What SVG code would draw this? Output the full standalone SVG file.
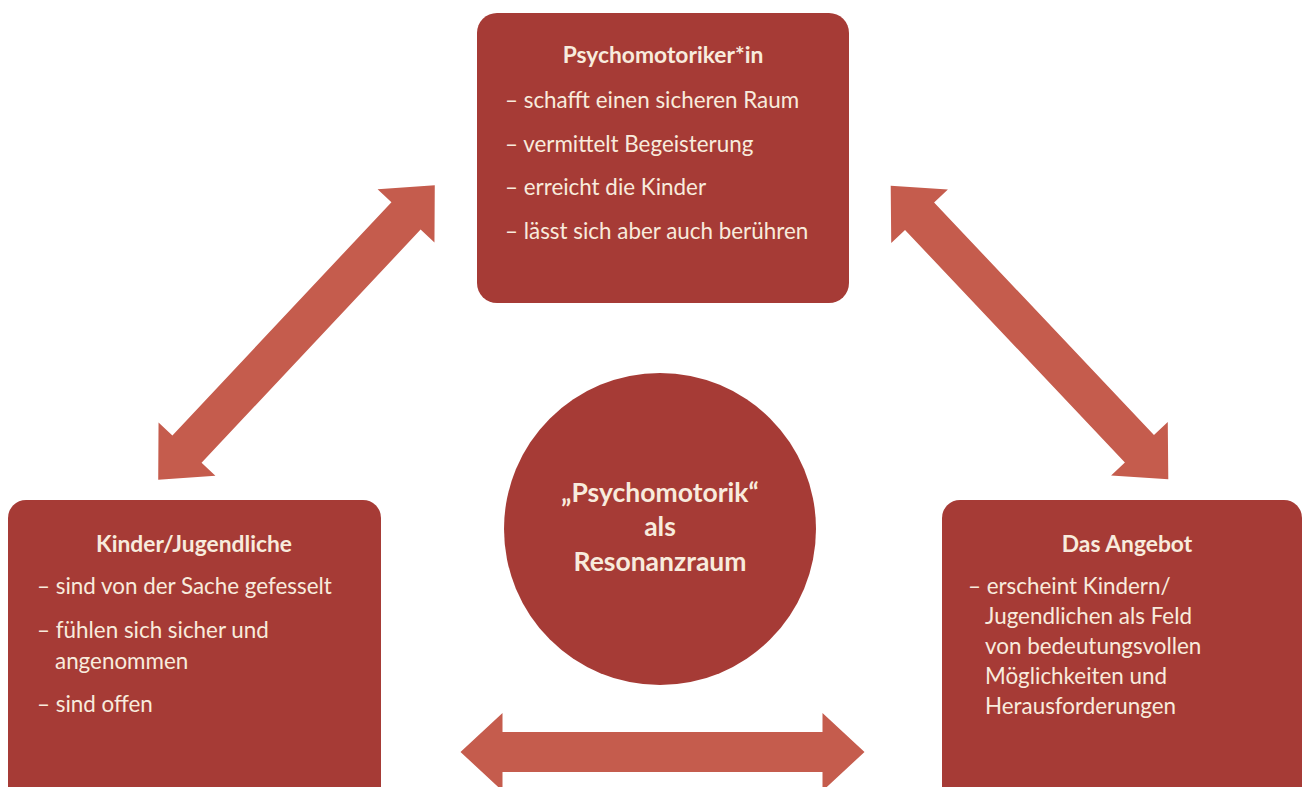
<svg xmlns="http://www.w3.org/2000/svg" xmlns:xlink="http://www.w3.org/1999/xlink" width="1303" height="787" viewBox="0 0 1303 787">
  <style>
    .box { fill: #a63b36; }
    .arrow { fill: #c55c4d; }
    text { font-family: "Lato", "Open Sans", sans-serif; fill: #f8ebdd; }
    .title { font-weight: bold; font-size: 22.8px; text-anchor: middle; }
    .item { font-size: 22.4px; }
    .center { font-weight: bold; font-size: 26.5px; text-anchor: middle; }
  </style>
  <defs>
    <path id="dbl" d="M -202,0 L -160,-39 L -160,-20 L 160,-20 L 160,-39 L 202,0 L 160,39 L 160,20 L -160,20 L -160,39 Z"/>
  </defs>
  <rect width="1303" height="787" fill="#ffffff"/>
  <g id="connectors" class="arrow">
    <use xlink:href="#dbl" href="#dbl" transform="translate(296.5,332.5) rotate(-46.8)"/>
    <use xlink:href="#dbl" href="#dbl" transform="translate(1029.5,332.5) rotate(46.6)"/>
    <use xlink:href="#dbl" href="#dbl" transform="translate(662.5,752)"/>
  </g>
  <g id="node-psychomotoriker">
    <rect class="box" x="477" y="13" width="372" height="290" rx="20"/>
    <text class="title" x="663" y="63">Psychomotoriker*in</text>
    <text class="item" x="505" y="108">– schafft einen sicheren Raum</text>
    <text class="item" x="505" y="152">– vermittelt Begeisterung</text>
    <text class="item" x="505" y="195">– erreicht die Kinder</text>
    <text class="item" x="505" y="239">– lässt sich aber auch berühren</text>
  </g>
  <g id="node-kinder">
    <rect class="box" x="8" y="500" width="373" height="310" rx="18"/>
    <text class="title" x="194" y="552">Kinder/Jugendliche</text>
    <text class="item" x="37" y="594">– sind von der Sache gefesselt</text>
    <text class="item" x="37" y="638">– fühlen sich sicher und</text>
    <text class="item" x="55" y="669">angenommen</text>
    <text class="item" x="37" y="712">– sind offen</text>
  </g>
  <g id="node-angebot">
    <rect class="box" x="942" y="500" width="360" height="310" rx="18"/>
    <text class="title" x="1127" y="552">Das Angebot</text>
    <text class="item" x="968" y="594">– erscheint Kindern/</text>
    <text class="item" x="985" y="624">Jugendlichen als Feld</text>
    <text class="item" x="985" y="654">von bedeutungsvollen</text>
    <text class="item" x="985" y="684">Möglichkeiten und</text>
    <text class="item" x="985" y="714">Herausforderungen</text>
  </g>
  <g id="node-resonanzraum">
    <circle class="box" cx="660" cy="529" r="156"/>
    <text class="center" x="660" y="502">„Psychomotorik“</text>
    <text class="center" x="660" y="536">als</text>
    <text class="center" x="660" y="571">Resonanzraum</text>
  </g>
</svg>
